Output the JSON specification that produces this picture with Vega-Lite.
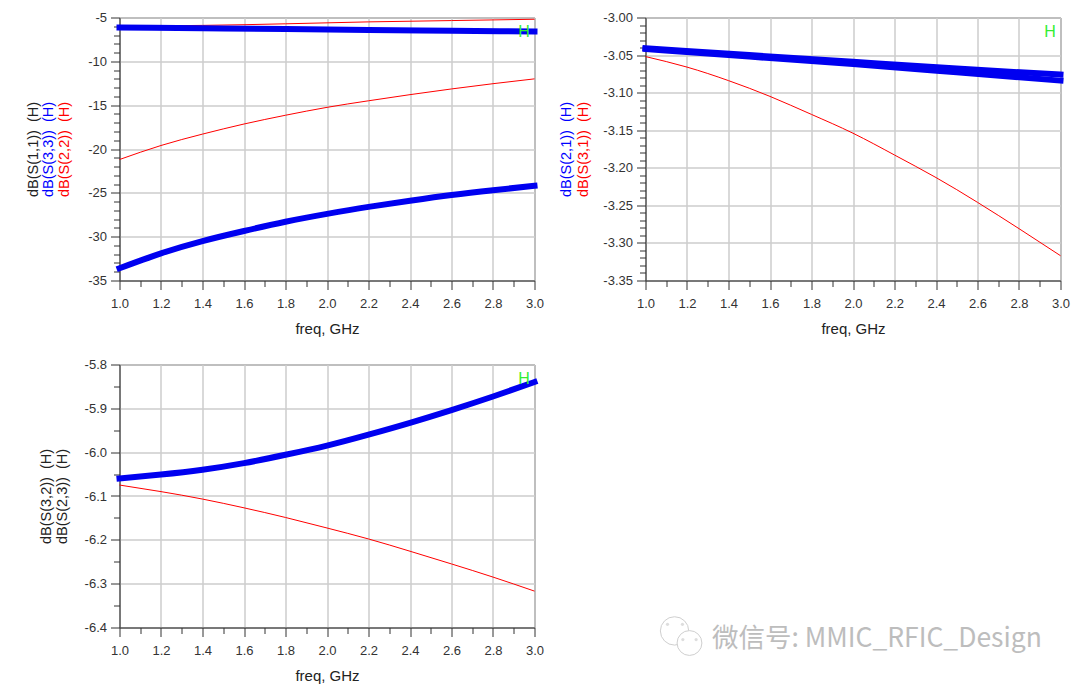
{
"$schema":"https://vega.github.io/schema/vega-lite/v6.json",
"background":"white",
"padding":{"left":24.5,"top":10.5,"right":0,"bottom":0},
"bounds":"flush",
"spacing":{"column":111,"row":84},
"columns":2,
"config":{"view":{"stroke":"#333333","strokeWidth":1},"font":"Liberation Sans","axis":{"labelFont":"Liberation Sans","titleFont":"Liberation Sans","labelFontSize":13,"titleFontSize":14.5,"titleFontWeight":"normal","labelColor":"#333333","titleColor":"#222222","domainColor":"#333333","tickColor":"#333333","gridColor":"#cccccc","gridWidth":1.5,"labelFlush":false,"labelOverlap":false}},
"datasets":{
"p1":[
{"f":1.0,"v":-33.6,"t":"S33"},{"f":1.2,"v":-31.9,"t":"S33"},{"f":1.4,"v":-30.5,"t":"S33"},{"f":1.6,"v":-29.35,"t":"S33"},{"f":1.8,"v":-28.3,"t":"S33"},{"f":2.0,"v":-27.4,"t":"S33"},{"f":2.2,"v":-26.6,"t":"S33"},{"f":2.4,"v":-25.9,"t":"S33"},{"f":2.6,"v":-25.25,"t":"S33"},{"f":2.8,"v":-24.7,"t":"S33"},{"f":3.0,"v":-24.2,"t":"S33"},
{"f":1.0,"v":-6.15,"t":"S11"},{"f":1.4,"v":-6.22,"t":"S11"},{"f":1.8,"v":-6.32,"t":"S11"},{"f":2.2,"v":-6.42,"t":"S11"},{"f":2.6,"v":-6.52,"t":"S11"},{"f":3.0,"v":-6.6,"t":"S11"},
{"f":1.0,"v":-21.2,"t":"S22a"},{"f":1.2,"v":-19.6,"t":"S22a"},{"f":1.4,"v":-18.3,"t":"S22a"},{"f":1.6,"v":-17.15,"t":"S22a"},{"f":1.8,"v":-16.15,"t":"S22a"},{"f":2.0,"v":-15.25,"t":"S22a"},{"f":2.2,"v":-14.5,"t":"S22a"},{"f":2.4,"v":-13.8,"t":"S22a"},{"f":2.6,"v":-13.15,"t":"S22a"},{"f":2.8,"v":-12.55,"t":"S22a"},{"f":3.0,"v":-12.0,"t":"S22a"},
{"f":1.0,"v":-6.0,"t":"S22b"},{"f":1.4,"v":-5.9,"t":"S22b"},{"f":1.8,"v":-5.72,"t":"S22b"},{"f":2.2,"v":-5.5,"t":"S22b"},{"f":2.6,"v":-5.35,"t":"S22b"},{"f":3.0,"v":-5.2,"t":"S22b"}],
"p2":[
{"f":1.0,"v":-3.041,"t":"S21a"},{"f":1.5,"v":-3.05,"t":"S21a"},{"f":2.0,"v":-3.059,"t":"S21a"},{"f":2.5,"v":-3.068,"t":"S21a"},{"f":3.0,"v":-3.076,"t":"S21a"},
{"f":1.0,"v":-3.042,"t":"S21b"},{"f":1.5,"v":-3.052,"t":"S21b"},{"f":2.0,"v":-3.062,"t":"S21b"},{"f":2.5,"v":-3.073,"t":"S21b"},{"f":3.0,"v":-3.084,"t":"S21b"},
{"f":1.0,"v":-3.052,"t":"S31"},{"f":1.2,"v":-3.066,"t":"S31"},{"f":1.4,"v":-3.084,"t":"S31"},{"f":1.6,"v":-3.105,"t":"S31"},{"f":1.8,"v":-3.129,"t":"S31"},{"f":2.0,"v":-3.154,"t":"S31"},{"f":2.2,"v":-3.183,"t":"S31"},{"f":2.4,"v":-3.213,"t":"S31"},{"f":2.6,"v":-3.246,"t":"S31"},{"f":2.8,"v":-3.281,"t":"S31"},{"f":3.0,"v":-3.317,"t":"S31"}],
"p3":[
{"f":1.0,"v":-6.06,"t":"S32"},{"f":1.2,"v":-6.051,"t":"S32"},{"f":1.4,"v":-6.04,"t":"S32"},{"f":1.6,"v":-6.025,"t":"S32"},{"f":1.8,"v":-6.006,"t":"S32"},{"f":2.0,"v":-5.985,"t":"S32"},{"f":2.2,"v":-5.96,"t":"S32"},{"f":2.4,"v":-5.933,"t":"S32"},{"f":2.6,"v":-5.904,"t":"S32"},{"f":2.8,"v":-5.873,"t":"S32"},{"f":3.0,"v":-5.84,"t":"S32"},
{"f":1.0,"v":-6.075,"t":"S23"},{"f":1.2,"v":-6.09,"t":"S23"},{"f":1.4,"v":-6.107,"t":"S23"},{"f":1.6,"v":-6.127,"t":"S23"},{"f":1.8,"v":-6.149,"t":"S23"},{"f":2.0,"v":-6.173,"t":"S23"},{"f":2.2,"v":-6.198,"t":"S23"},{"f":2.4,"v":-6.226,"t":"S23"},{"f":2.6,"v":-6.255,"t":"S23"},{"f":2.8,"v":-6.285,"t":"S23"},{"f":3.0,"v":-6.317,"t":"S23"}]
},
"concat":[
{"width":415,"height":263,"resolve":{"axis":{"x":"independent","y":"independent"}},
"layer":[
{"data":{"name":"p1"},"transform":[{"filter":"indexof(datum.t,'S22')==0"}],"mark":{"type":"line","color":"#ff0000","strokeWidth":1,"interpolate":"natural"},
"encoding":{"detail":{"field":"t"},
"x":{"field":"f","type":"quantitative","scale":{"domain":[1,3]},"axis":{"orient":"bottom","values":[1,1.2,1.4,1.6,1.8,2,2.2,2.4,2.6,2.8,3],"format":".1f","tickSize":9,"labelPadding":7.5,"title":"freq, GHz","titleY":41,"titleFontSize":15}},
"y":{"field":"v","type":"quantitative","scale":{"domain":[-35,-5]},"axis":{"orient":"left","values":[-35,-30,-25,-20,-15,-10,-5],"format":"d","labelExpr":"replace(datum.label,'−','-')","tickSize":9,"labelPadding":4,"title":"dB(S(1,1))\u00a0\u00a0(H)","titleX":-79,"titleColor":"#222222"}}}},
{"data":{"name":"p1"},"transform":[{"filter":"indexof(datum.t,'S22')<0"}],"mark":{"type":"line","color":"#0000f0","strokeWidth":6,"interpolate":"natural","strokeCap":"square"},
"encoding":{"detail":{"field":"t"},
"x":{"field":"f","type":"quantitative","scale":{"domain":[1,3]},"axis":{"orient":"bottom","values":[1.1,1.3,1.5,1.7,1.9,2.1,2.3,2.5,2.7,2.9],"grid":false,"labels":false,"domain":false,"tickSize":6,"title":null}},
"y":{"field":"v","type":"quantitative","scale":{"domain":[-35,-5]},"axis":{"orient":"left","values":[-34,-33,-32,-31,-29,-28,-27,-26,-24,-23,-22,-21,-19,-18,-17,-16,-14,-13,-12,-11,-9,-8,-7,-6],"grid":false,"labels":false,"domain":false,"tickSize":6,"title":"dB(S(3,3))\u00a0\u00a0(H)","titleX":-64,"titleColor":"#0000ff"}}}},
{"data":{"values":[{"f":2.95,"v":-6.65,"s":"H"}]},"mark":{"type":"text","color":"#33ee33","fontSize":16},
"encoding":{"text":{"field":"s"},
"x":{"field":"f","type":"quantitative","scale":{"domain":[1,3]},"axis":null},
"y":{"field":"v","type":"quantitative","scale":{"domain":[-35,-5]},"axis":{"orient":"left","values":[],"grid":false,"labels":false,"domain":false,"ticks":false,"title":"dB(S(2,2))\u00a0\u00a0(H)","titleX":-48,"titleColor":"#ff0000"}}}}
]},
{"width":415,"height":263,"resolve":{"axis":{"x":"independent","y":"independent"}},
"layer":[
{"data":{"name":"p2"},"transform":[{"filter":"datum.t=='S31'"}],"mark":{"type":"line","color":"#ff0000","strokeWidth":1,"interpolate":"natural"},
"encoding":{"detail":{"field":"t"},
"x":{"field":"f","type":"quantitative","scale":{"domain":[1,3]},"axis":{"orient":"bottom","values":[1,1.2,1.4,1.6,1.8,2,2.2,2.4,2.6,2.8,3],"format":".1f","tickSize":9,"labelPadding":7.5,"title":"freq, GHz","titleY":41,"titleFontSize":15}},
"y":{"field":"v","type":"quantitative","scale":{"domain":[-3.35,-3.0]},"axis":{"orient":"left","values":[-3.35,-3.3,-3.25,-3.2,-3.15,-3.1,-3.05,-3.0],"format":".2f","labelExpr":"replace(datum.label,'−','-')","tickSize":9,"labelPadding":4,"title":"dB(S(3,1))\u00a0\u00a0(H)","titleX":-55.5,"titleColor":"#ff0000"}}}},
{"data":{"name":"p2"},"transform":[{"filter":"datum.t!='S31'"}],"mark":{"type":"line","color":"#0000f0","strokeWidth":6,"interpolate":"natural","strokeCap":"square"},
"encoding":{"detail":{"field":"t"},
"x":{"field":"f","type":"quantitative","scale":{"domain":[1,3]},"axis":{"orient":"bottom","values":[1.1,1.3,1.5,1.7,1.9,2.1,2.3,2.5,2.7,2.9],"grid":false,"labels":false,"domain":false,"tickSize":6,"title":null}},
"y":{"field":"v","type":"quantitative","scale":{"domain":[-3.35,-3.0]},"axis":{"orient":"left","values":[-3.34,-3.33,-3.32,-3.31,-3.29,-3.28,-3.27,-3.26,-3.24,-3.23,-3.22,-3.21,-3.19,-3.18,-3.17,-3.16,-3.14,-3.13,-3.12,-3.11,-3.09,-3.08,-3.07,-3.06,-3.04,-3.03,-3.02,-3.01],"grid":false,"labels":false,"domain":false,"tickSize":6,"title":"dB(S(2,1))\u00a0\u00a0(H)","titleX":-72,"titleColor":"#0000ff"}}}},
{"data":{"values":[{"f":2.95,"v":-3.019,"s":"H"}]},"mark":{"type":"text","color":"#33ee33","fontSize":16},
"encoding":{"text":{"field":"s"},
"x":{"field":"f","type":"quantitative","scale":{"domain":[1,3]},"axis":null},
"y":{"field":"v","type":"quantitative","scale":{"domain":[-3.35,-3.0]},"axis":null}}}
]},
{"width":415,"height":263,"resolve":{"axis":{"x":"independent","y":"independent"}},
"layer":[
{"data":{"name":"p3"},"transform":[{"filter":"datum.t=='S23'"}],"mark":{"type":"line","color":"#ff0000","strokeWidth":1,"interpolate":"natural"},
"encoding":{"detail":{"field":"t"},
"x":{"field":"f","type":"quantitative","scale":{"domain":[1,3]},"axis":{"orient":"bottom","values":[1,1.2,1.4,1.6,1.8,2,2.2,2.4,2.6,2.8,3],"format":".1f","tickSize":9,"labelPadding":7.5,"title":"freq, GHz","titleY":41,"titleFontSize":15}},
"y":{"field":"v","type":"quantitative","scale":{"domain":[-6.4,-5.8]},"axis":{"orient":"left","values":[-6.4,-6.3,-6.2,-6.1,-6.0,-5.9,-5.8],"format":".1f","labelExpr":"replace(datum.label,'−','-')","tickSize":9,"labelPadding":4,"title":"dB(S(2,3))\u00a0\u00a0(H)","titleX":-50,"titleColor":"#222222"}}}},
{"data":{"name":"p3"},"transform":[{"filter":"datum.t!='S23'"}],"mark":{"type":"line","color":"#0000f0","strokeWidth":6,"interpolate":"natural","strokeCap":"square"},
"encoding":{"detail":{"field":"t"},
"x":{"field":"f","type":"quantitative","scale":{"domain":[1,3]},"axis":{"orient":"bottom","values":[1.1,1.3,1.5,1.7,1.9,2.1,2.3,2.5,2.7,2.9],"grid":false,"labels":false,"domain":false,"tickSize":6,"title":null}},
"y":{"field":"v","type":"quantitative","scale":{"domain":[-6.4,-5.8]},"axis":{"orient":"left","values":[-6.35,-6.25,-6.15,-6.05,-5.95,-5.85],"grid":false,"labels":false,"domain":false,"tickSize":6,"title":"dB(S(3,2))\u00a0\u00a0(H)","titleX":-66,"titleColor":"#222222"}}}},
{"data":{"values":[{"f":2.95,"v":-5.833,"s":"H"}]},"mark":{"type":"text","color":"#33ee33","fontSize":16},
"encoding":{"text":{"field":"s"},
"x":{"field":"f","type":"quantitative","scale":{"domain":[1,3]},"axis":null},
"y":{"field":"v","type":"quantitative","scale":{"domain":[-6.4,-5.8]},"axis":null}}}
]},
{"width":415,"height":263,"view":{"stroke":null},
"layer":[
{"data":{"values":[{"a":0.16,"b":-0.045,"s":"微信号: MMIC_RFIC_Design"}]},"mark":{"type":"text","align":"left","baseline":"middle","font":"Noto Sans CJK SC","fontSize":26.5,"color":"#bdbdbd","clip":false},
"encoding":{"text":{"field":"s"},"x":{"field":"a","type":"quantitative","scale":{"domain":[0,1]},"axis":null},"y":{"field":"b","type":"quantitative","scale":{"domain":[0,1]},"axis":null}}},
{"data":{"values":[{"a":0.07,"b":-0.013,"z":804},{"a":0.106,"b":-0.059,"z":616}]},"mark":{"type":"point","shape":"circle","fill":"#ffffff","fillOpacity":1,"stroke":"#cfcfcf","filled":true,"strokeWidth":1,"clip":false},
"encoding":{"size":{"field":"z","type":"quantitative","legend":null,"scale":null},"x":{"field":"a","type":"quantitative","scale":{"domain":[0,1]},"axis":null},"y":{"field":"b","type":"quantitative","scale":{"domain":[0,1]},"axis":null}}},
{"data":{"values":[{"a":0.053,"b":0.012},{"a":0.089,"b":0.012},{"a":0.09,"b":-0.046},{"a":0.122,"b":-0.046}]},"mark":{"type":"point","shape":"circle","size":10,"color":"#cfcfcf","filled":true,"clip":false},
"encoding":{"x":{"field":"a","type":"quantitative","scale":{"domain":[0,1]},"axis":null},"y":{"field":"b","type":"quantitative","scale":{"domain":[0,1]},"axis":null}}}
]}
]
}
